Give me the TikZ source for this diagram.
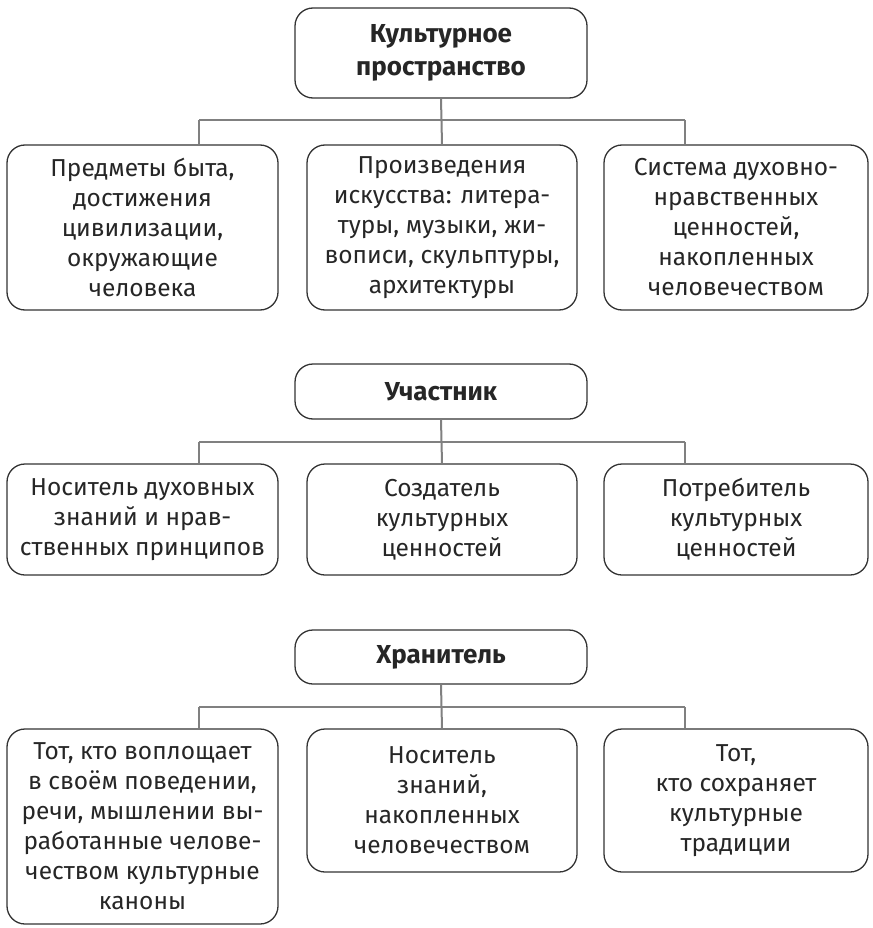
\documentclass[tikz,border=0pt]{standalone}
\usepackage{fontspec}
\setmainfont{Fira Sans}
\tikzset{
  box/.style={draw=black!80, line width=1.3pt, rounded corners=18pt, align=center,
    inner sep=0pt, text=black!85, font=\fontsize{24.5}{30}\selectfont},
  headbox/.style={box, font=\fontsize{26}{33}\selectfont\bfseries},
  link/.style={draw=black!50, line width=2pt}
}
\begin{document}
\begin{tikzpicture}[x=1pt, y=-1pt]
    \useasboundingbox (0,0) rectangle (872,928);
    % first group
    \node[headbox, minimum width=292, minimum height=90] (h1) at (441,53)
        {Культурное\\пространство};
    \node[box, minimum width=271, minimum height=165] (a1) at (142.5,227.5)
        {Предметы быта,\\достижения\\цивилизации,\\окружающие\\человека};
    \node[box, minimum width=270, minimum height=165] (b1) at (442,227.5)
        {Произведения\\искусства: литера-\\туры, музыки, жи-\\вописи, скульптуры,\\архитектуры};
    \node[box, minimum width=264, minimum height=165] (c1) at (736,227.5)
        {Система духовно-\\нравственных\\ценностей,\\накопленных\\человечеством};
    % second group
    \node[headbox, minimum width=292, minimum height=55] (h2) at (441,391.5)
        {Участник};
    \node[box, minimum width=271, minimum height=111] (a2) at (142.5,519.5)
        {Носитель духовных\\знаний и нрав-\\ственных принципов};
    \node[box, minimum width=270, minimum height=111] (b2) at (442,519.5)
        {Создатель\\культурных\\ценностей};
    \node[box, minimum width=264, minimum height=111] (c2) at (736,519.5)
        {Потребитель\\культурных\\ценностей};
    % third group
    \node[headbox, minimum width=292, minimum height=54] (h3) at (441,657)
        {Хранитель};
    \node[box, minimum width=271, minimum height=195] (a3) at (142.5,826.5)
        {Тот, кто воплощает\\в своём поведении,\\речи, мышлении вы-\\работанные челове-\\чеством культурные\\каноны};
    \node[box, minimum width=270, minimum height=143] (b3) at (442,800.5)
        {Носитель\\знаний,\\накопленных\\человечеством};
    \node[box, minimum width=264, minimum height=143] (c3) at (736,800.5)
        {Тот,\\кто сохраняет\\культурные\\традиции};
    % connectors
    \foreach \r/\y in {1/120, 2/442, 3/707} {
        \coordinate (l\r) at (199,\y);
        \coordinate (r\r) at (685,\y);
        \draw[link] (h\r.south) -- (b\r.north);
        \draw[link] (l\r) -- (r\r);
        \draw[link] (l\r) -- (l\r |- a\r.north);
        \draw[link] (r\r) -- (r\r |- c\r.north);
    }
\end{tikzpicture}
\end{document}
